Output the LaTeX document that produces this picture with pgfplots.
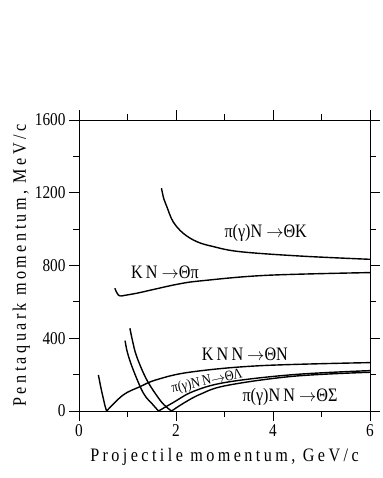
\documentclass[border=0pt]{standalone}
\usepackage{fontspec}
\setmainfont{Liberation Serif}[FakeStretch=0.85]
\newfontfamily\spaced{Liberation Serif}[FakeStretch=0.85,LetterSpace=18]
\usepackage{pgfplots}
\pgfplotsset{compat=1.18}
\pgfplotsset{curve/.style={black, line width=1.4pt, smooth, tension=0.6, mark=none}}
\begin{document}
\begin{tikzpicture}
\useasboundingbox (0,0) rectangle (382pt,478pt);
\begin{axis}[at={(79pt,67pt)}, anchor=south west, scale only axis,
  width=291pt, height=291pt,
  xmin=0, xmax=6, ymin=0, ymax=1600,
  xtick={0,2,4,6}, minor xtick={1,3,5},
  ytick={0,400,800,1200,1600}, minor ytick={200,600,1000,1400},
  tick align=outside, major tick length=10pt, minor tick length=6pt,
  every tick/.style={black, line width=0.8pt},
  axis line style={line width=0.8pt},
  /pgf/number format/assume math mode=true,
  /pgf/number format/1000 sep={},
  tick label style={font=\fontsize{18}{18}\selectfont},
  xlabel={\spaced\fontsize{19}{19}\selectfont Projectile momentum, GeV/c},
  ylabel={\spaced\fontsize{19}{19}\selectfont Pentaquark momentum, MeV/c},
  xlabel style={yshift=-5pt}, ylabel style={yshift=-2pt},
  clip=false]
% pi(gamma) N -> Theta K
\addplot[curve] coordinates {(1.70,1225) (1.75,1165) (1.81,1124) (1.94,1041) (2.15,977) (2.43,931) (2.77,904) (3.32,876) (4.56,852) (6,834)};
% K N -> Theta pi
\addplot[curve] coordinates {(0.74,675) (0.77,655) (0.81,638) (0.86,632)};
\addplot[curve] coordinates {(0.86,632) (1.20,648) (1.50,666) (2.05,698) (2.53,716) (3.87,746) (6,761)};
% K N N -> Theta N
\addplot[curve] coordinates {(0.40,198) (0.45,130) (0.50,70) (0.54,25) (0.57,0)};
\addplot[curve] coordinates {(0.57,0) (0.91,88) (1.26,134) (1.60,172) (2.30,214) (3.73,249) (6,266)};
% pi(gamma) N N -> Theta Lambda
\addplot[curve] coordinates {(0.95,387) (1.00,320) (1.12,225) (1.33,97) (1.53,33) (1.64,0)};
\addplot[curve] coordinates {(1.64,0) (1.94,46) (2.36,108) (3.04,158) (4.42,200) (6,222)};
% pi(gamma) N N -> Theta Sigma
\addplot[curve] coordinates {(1.05,455) (1.10,390) (1.19,299) (1.40,170) (1.67,60) (1.82,18) (1.91,0)};
\addplot[curve] coordinates {(1.91,0) (2.15,42) (2.50,92) (3.04,140) (4.42,191) (6,213)};
\node[font=\fontsize{19}{19}\selectfont] at (axis cs:3.85,979) {π(γ)N $\rightarrow$ΘK};
\node[font=\fontsize{19}{19}\selectfont] at (axis cs:1.77,765) {K\,N $\rightarrow$Θπ};
\node[font=\fontsize{19}{19}\selectfont] at (axis cs:3.42,312) {K\,N\,N $\rightarrow$ΘN};
\node[font=\fontsize{14.5}{14.5}\selectfont, rotate=12, inner sep=0pt] at (axis cs:2.64,162) {π(γ)N\,N$\rightarrow$ΘΛ};
\node[font=\fontsize{19}{19}\selectfont] at (axis cs:4.35,80) {π(γ)N\,N $\rightarrow$ΘΣ};
\end{axis}
\end{tikzpicture}
\end{document}
